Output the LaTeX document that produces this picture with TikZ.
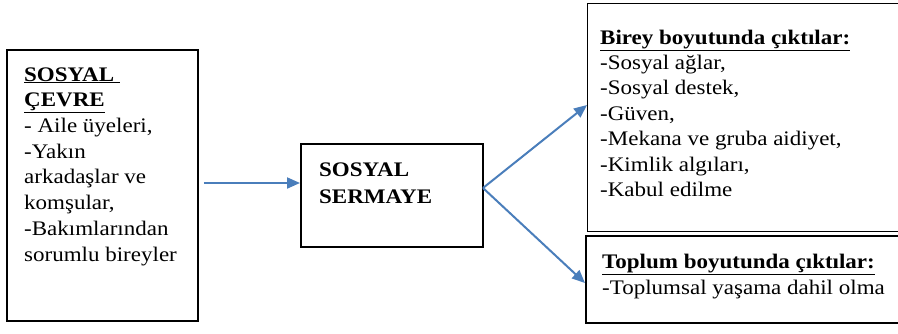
\documentclass[tikz,border=0pt]{standalone}
\usepackage{fontspec}
\setmainfont{Liberation Serif}
\usetikzlibrary{arrows.meta}
\definecolor{arrowblue}{HTML}{4A7EBB}
\newcommand{\sqz}[2]{\scalebox{1}[0.9]{\fontsize{23}{#1}\selectfont\begin{tabular}[t]{@{}l@{}}#2\end{tabular}}}
\begin{document}
\begin{tikzpicture}[x=1pt,y=-1pt,
  box/.style={draw=black,line width=1.8pt,inner sep=0pt,anchor=north west},
  thinbox/.style={box,line width=1.2pt},
  txt/.style={anchor=base west,inner sep=0pt},
  conn/.style={draw=arrowblue,line width=2pt,-{Triangle[length=13pt,width=11pt]}}]
\clip (0,0) rectangle (898,333);
\fill[white] (0,0) rectangle (898,333);
% boxes
\node[box,minimum width=191pt,minimum height=271pt] (b1) at (6,49) {};
\node[box,minimum width=182pt,minimum height=103pt] (b2) at (300,143) {};
\node[thinbox,minimum width=320pt,minimum height=228pt] (b3) at (587,3) {};
\node[box,minimum width=320pt,minimum height=87pt] (b4) at (585,235) {};
% texts
\node[txt] (t1) at (24,81) {\sqz{28.6}{\textbf{\underline{SOSYAL\ }}\\\textbf{\underline{ÇEVRE}}\\- Aile üyeleri,\\-Yakın\\arkadaşlar ve\\komşular,\\-Bakımlarından\\sorumlu bireyler}};
\node[txt] (t2) at (319,176) {\sqz{31}{\textbf{SOSYAL}\\\textbf{SERMAYE}}};
\node[txt] (t3) at (600,44) {\sqz{28.3}{\textbf{\underline{Birey boyutunda çıktılar:}}\\-Sosyal ağlar,\\-Sosyal destek,\\-Güven,\\-Mekana ve gruba aidiyet,\\-Kimlik algıları,\\-Kabul edilme}};
\node[txt] (t4) at (602,268) {\sqz{29}{\textbf{\underline{Toplum boyutunda çıktılar:}}\\-Toplumsal yaşama dahil olma}};
% connectors
\coordinate (fork) at (483,188);
\coordinate (tip3) at (587,105);
\coordinate (tip4) at (585,283);
\draw[conn] (b1.east |- 0,183) ++(5,0) -- (b2.west |- 0,183);
\draw[conn] (fork) -- (tip3);
\draw[conn] (fork) -- (tip4);
\end{tikzpicture}
\end{document}
